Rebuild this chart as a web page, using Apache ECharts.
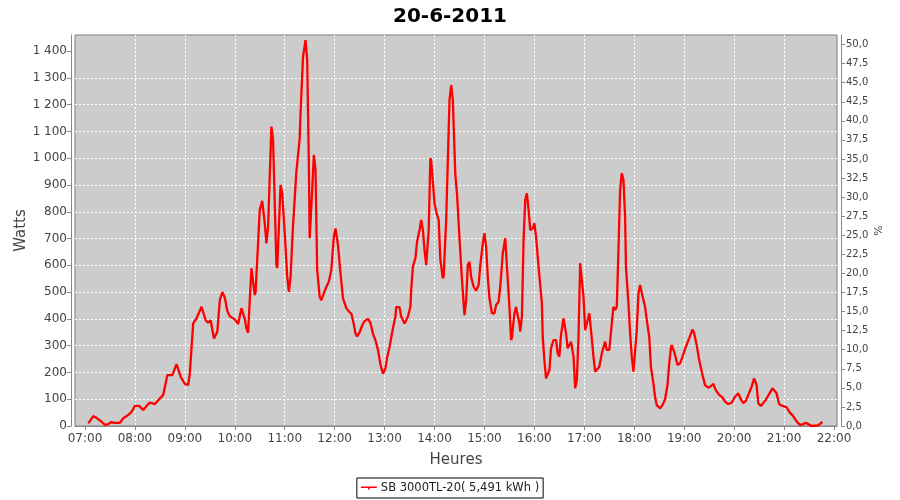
<!DOCTYPE html>
<html><head><meta charset="utf-8">
<script src="https://cdn.jsdelivr.net/npm/echarts@6/dist/echarts.min.js"></script>
<style>html,body{margin:0;padding:0;background:#fff}#c{width:900px;height:500px}</style>
</head><body><div id="c"></div>
<script>
const chartTitle = '20-6-2011';
const seriesName = 'SB 3000TL-20( 5,491 kWh )';
const times = ['07:04','07:10','07:13','07:20','07:24','07:28','07:31','07:36','07:42','07:46','07:52','07:56',
'08:00','08:05','08:10','08:14','08:18','08:24','08:30','08:34','08:39','08:45','08:50','08:55',
'09:00','09:04','09:06','09:10','09:14','09:20','09:25','09:28','09:31','09:35','09:39','09:42','09:45','09:48','09:51','09:54',
'10:00','10:04','10:08','10:12','10:14','10:16','10:18','10:20','10:24','10:25','10:30','10:33','10:36','10:38','10:40','10:44','10:46','10:50','10:51','10:55','10:57',
'11:00','11:03','11:05','11:07','11:10','11:14','11:18','11:19','11:22','11:25','11:27','11:29','11:30','11:31','11:33','11:35','11:37','11:39','11:42','11:44','11:47','11:50','11:53','11:56','11:59',
'12:01','12:04','12:07','12:10','12:14','12:17','12:20','12:23','12:25','12:27','12:30','12:33','12:36','12:40','12:43','12:46','12:49','12:52','12:55','12:58',
'13:01','13:03','13:06','13:10','13:13','13:14','13:18','13:20','13:24','13:28','13:31','13:32','13:34','13:37','13:39','13:42','13:44','13:46','13:48','13:50','13:53','13:55','13:56',
'14:00','14:02','14:05','14:07','14:10','14:11','14:14','14:16','14:18','14:20','14:22','14:25','14:27','14:30','14:33','14:36','14:38','14:40','14:42','14:44','14:47','14:50','14:53','14:55','14:58',
'15:00','15:02','15:04','15:06','15:09','15:12','15:14','15:17','15:19','15:22','15:25','15:27','15:30','15:32','15:33','15:36','15:38','15:39','15:42','15:43','15:45','15:47','15:49','15:51','15:53','15:55','15:58',
'16:00','16:02','16:05','16:09','16:10','16:12','16:14','16:16','16:18','16:20','16:23','16:26','16:28','16:30','16:32','16:35','16:38','16:40','16:41','16:44','16:47','16:49','16:51','16:53','16:55','16:57','16:59',
'17:01','17:03','17:06','17:08','17:11','17:13','17:15','17:18','17:21','17:25','17:27','17:30','17:33','17:35','17:37','17:39','17:41','17:43','17:45','17:47','17:49','17:50','17:53','17:55','17:57','17:59',
'18:01','18:03','18:05','18:07','18:10','18:13','18:15','18:18','18:20','18:23','18:25','18:27','18:31','18:34','18:37','18:40','18:42','18:44','18:45','18:48','18:52','18:55','18:58',
'19:02','19:06','19:10','19:12','19:15','19:18','19:22','19:25','19:29','19:32','19:35','19:38','19:42','19:46','19:49','19:53','19:57',
'20:01','20:05','20:08','20:11','20:14','20:17','20:21','20:24','20:27','20:29','20:32','20:34','20:38','20:42','20:46','20:48','20:51','20:54','20:58',
'21:03','21:07','21:11','21:14','21:17','21:20','21:23','21:26','21:29','21:33','21:37','21:41','21:44','21:46'];
const watts = [10,37,32,16,4,7,14,12,12,29,41,53,
75,75,60,75,87,82,103,116,190,190,231,184,
157,153,197,383,402,445,395,386,395,327,352,470,500,480,430,410,
398,381,440,400,365,348,470,589,489,500,807,841,757,682,744,1118,1068,601,590,900,869,
720,557,501,557,750,950,1074,1168,1379,1441,1367,981,701,701,881,1012,956,583,483,470,495,520,539,583,707,
738,676,570,477,440,428,420,380,345,335,350,375,392,400,385,345,320,285,230,195,
215,255,296,365,408,445,443,408,383,408,445,508,595,626,688,732,769,732,657,601,732,1000,990,
832,800,769,620,551,560,769,993,1217,1273,1217,937,869,701,545,414,470,601,613,557,520,505,527,601,682,
720,670,557,477,421,421,452,464,520,645,701,595,445,321,330,421,445,427,383,352,408,695,844,869,807,732,738,
757,707,595,458,333,246,178,185,209,290,321,321,271,259,340,402,346,290,295,315,259,141,172,333,608,608,483,
358,383,421,358,259,203,203,221,271,315,284,284,383,445,433,445,657,881,944,919,782,595,458,346,259,203,
203,358,495,527,483,445,396,333,221,159,109,78,66,78,100,155,234,290,302,277,228,234,259,
296,327,361,346,302,246,190,153,143,149,157,134,116,107,91,82,87,
109,122,100,85,94,116,147,178,153,85,75,82,97,119,141,143,122,82,75,
70,50,37,22,10,4,7,12,7,0,1,2,10,16];
const xTickHours = [7,8,9,10,11,12,13,14,15,16,17,18,19,20,21,22];
const leftTicks = [0,100,200,300,400,500,600,700,800,900,1000,1100,1200,1300,1400];
const rightTicks = [0,2.5,5,7.5,10,12.5,15,17.5,20,22.5,25,27.5,30,32.5,35,37.5,40,42.5,45,47.5,50];

const FONT = 'DejaVu Sans';
const toHours = s => { const p = s.split(':'); return +p[0] + (+p[1]) / 60; };
const pad2 = n => (n < 10 ? '0' : '') + n;
const data = times.map((t, i) => [toHours(t), watts[i]]);

const chart = echarts.init(document.getElementById('c'), null, {renderer: 'canvas'});
const axisLineStyle = {color: '#888888', width: 1};
chart.setOption({
  backgroundColor: '#ffffff',
  animation: false,
  title: {
    text: chartTitle, left: 'center', top: 2,
    textStyle: {fontFamily: FONT, fontWeight: 'bold', fontSize: 20, color: '#000'}
  },
  legend: {
    bottom: 2, left: 'center',
    data: [{name: seriesName, icon: 'path://M0,4H16V5.6H0Z M7.2,4H8.8V7H7.2Z'}],
    itemWidth: 16, itemHeight: 7, itemGap: 4,
    borderColor: '#000', borderWidth: 1, borderRadius: 0,
    padding: [4, 4], backgroundColor: '#fff',
    textStyle: {fontFamily: FONT, fontSize: 11.5, color: '#222', padding: [0, 0, 0, -1]}
  },
  grid: {
    left: 75, right: 63, top: 35, bottom: 74,
    show: true, backgroundColor: '#cccccc', borderColor: '#808080', borderWidth: 1
  },
  xAxis: {
    type: 'value', min: 6.8, max: 22.06, splitNumber: 15, minInterval: 1, maxInterval: 1,
    offset: 4,
    name: 'Heures', nameLocation: 'middle', nameGap: 23, nameMoveOverlap: false,
    nameTextStyle: {fontFamily: FONT, fontSize: 15, color: '#444'},
    axisLine: {show: true, lineStyle: axisLineStyle},
    axisTick: {show: true, length: 4, lineStyle: axisLineStyle, customValues: xTickHours},
    axisLabel: {fontFamily: FONT, fontSize: 12, color: '#444', margin: 3,
      customValues: xTickHours, formatter: v => pad2(Math.round(v)) + ':00'},
    splitLine: {show: true, showMinLine: false, showMaxLine: false,
      lineStyle: {color: '#ffffff', width: 1, type: [2, 2]}}
  },
  yAxis: [{
    type: 'value', min: 0, max: 1460, interval: 100, offset: 4, position: 'left',
    name: 'Watts', nameLocation: 'middle', nameGap: 42, nameRotate: 90, nameMoveOverlap: false,
    nameTextStyle: {fontFamily: FONT, fontSize: 15, color: '#444'},
    axisLine: {show: true, lineStyle: axisLineStyle},
    axisTick: {show: true, length: 4, lineStyle: axisLineStyle, customValues: leftTicks},
    axisLabel: {fontFamily: FONT, fontSize: 12, color: '#444', margin: 4, customValues: leftTicks,
      formatter: v => v >= 1000 ? Math.floor(v / 1000) + ' ' + String(v % 1000).padStart(3, '0') : String(v)},
    splitLine: {show: true, showMinLine: false, showMaxLine: false,
      lineStyle: {color: '#ffffff', width: 1, type: [2, 2]}}
  }, {
    type: 'value', min: 0, max: 51.25, interval: 2.5, offset: 4, position: 'right',
    name: '%', nameLocation: 'middle', nameGap: 33, nameRotate: 90, nameMoveOverlap: false,
    nameTextStyle: {fontFamily: FONT, fontSize: 11, color: '#444'},
    axisLine: {show: true, lineStyle: axisLineStyle},
    axisTick: {show: true, length: 4, lineStyle: axisLineStyle, customValues: rightTicks},
    axisLabel: {fontFamily: FONT, fontSize: 10, color: '#444', margin: 5, customValues: rightTicks,
      formatter: v => v.toFixed(1).replace('.', ',')},
    splitLine: {show: false}
  }],
  series: [{
    name: seriesName, type: 'line', data: data, yAxisIndex: 0,
    showSymbol: false, symbol: 'rect', symbolSize: 3,
    lineStyle: {color: '#ff0000', width: 2.3},
    itemStyle: {color: '#ff0000'}
  }]
});
</script>
</body></html>
